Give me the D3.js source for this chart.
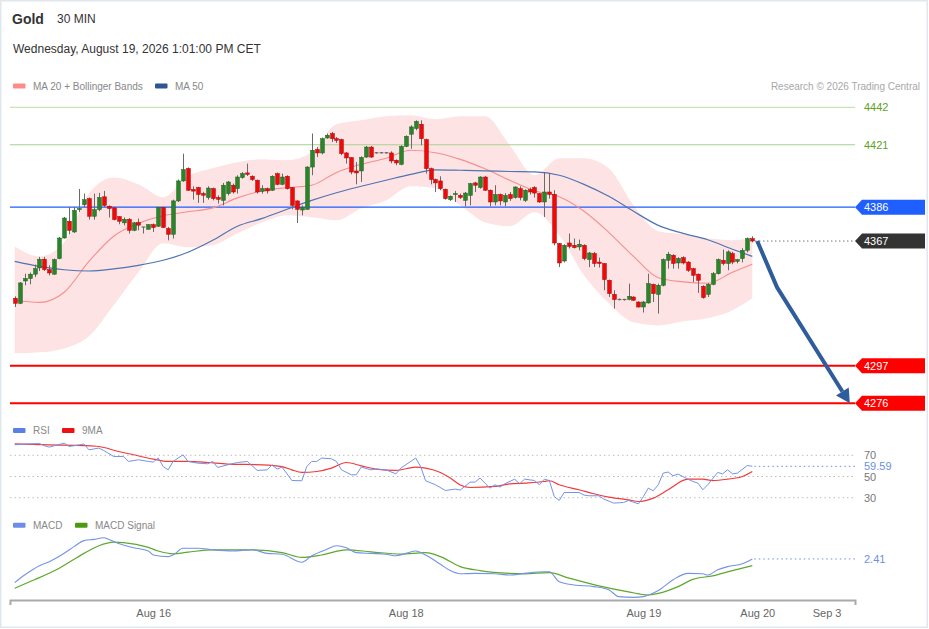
<!DOCTYPE html>
<html><head><meta charset="utf-8">
<script src="https://cdn.jsdelivr.net/npm/d3@7"></script>
<style>
body{margin:0;background:#fff;}
svg{display:block;font-family:"Liberation Sans",Arial,Helvetica,sans-serif;}
</style>
</head><body>
<svg id="c" width="929" height="629"></svg>
<script>
// ---------------- DATA ----------------
const opens = [4334.9,4332.1,4344.6,4346.0,4348.4,4351.9,4356.8,4351.0,4348.4,4357.2,
4368.7,4378.1,4372.1,4384.6,4387.4,4390.8,4380.9,4384.6,4391.8,4386.5,
4385.6,4380.7,4377.2,4379.2,4373.0,4377.4,4374.8,4373.6,4376.2,4375.3,
4385.8,4374.0,4370.8,4389.5,4400.7,4407.7,4395.9,4397.0,4393.6,4391.4,
4396.4,4391.4,4389.8,4393.6,4398.3,4396.4,4402.6,4405.2,4403.3,4401.1,
4394.9,4396.4,4395.5,4404.8,4398.8,4403.3,4397.0,4389.5,4384.4,4384.8,
4408.5,4418.3,4416.4,4424.8,4427.3,4424.4,4423.9,4416.4,4413.8,4406.3,
4406.3,4414.1,4419.7,4416.4,4416.6,4416.4,4416.4,4412.3,4410.0,4420.1,
4426.9,4430.1,4432.5,4423.9,4407.6,4401.5,4400.7,4396.0,4390.2,4393.1,
4392.6,4389.8,4392.6,4399.6,4397.0,4402.9,4395.5,4388.9,4393.1,4388.9,
4393.1,4391.4,4396.4,4389.8,4395.9,4397.0,4393.6,4388.9,4394.5,4393.2,
4365.6,4355.8,4365.9,4364.6,4363.7,4364.6,4356.6,4360.0,4355.2,4354.4,
4345.0,4337.1,4334.3,4334.1,4334.3,4335.6,4332.8,4330.0,4332.3,4342.7,
4337.1,4342.2,4356.2,4359.0,4354.7,4357.7,4355.2,4351.5,4348.4,4341.6,
4337.1,4342.7,4348.7,4356.2,4354.4,4360.0,4355.6,4357.2,4361.8,4368.4];
const highs = [4336.0,4344.0,4348.7,4349.3,4353.8,4358.1,4358.1,4353.4,4357.2,4369.3,
4380.5,4386.1,4386.1,4396.2,4393.6,4391.4,4393.6,4394.0,4395.1,4387.0,
4386.1,4380.9,4380.2,4379.9,4377.7,4379.6,4374.9,4376.4,4376.8,4386.1,
4386.1,4374.9,4390.2,4401.5,4416.0,4408.3,4397.7,4397.4,4394.6,4397.7,
4397.0,4392.6,4399.6,4400.7,4399.2,4403.9,4405.7,4410.4,4403.9,4401.5,
4398.3,4397.0,4403.9,4405.4,4404.8,4403.9,4397.3,4389.8,4387.0,4408.9,
4427.3,4419.7,4425.0,4427.3,4428.2,4425.3,4424.4,4417.0,4414.1,4411.3,
4414.5,4420.3,4420.3,4416.8,4416.9,4416.8,4417.3,4412.8,4420.7,4426.3,
4431.9,4434.7,4434.7,4424.4,4408.2,4402.0,4403.3,4396.4,4392.6,4395.1,
4393.6,4394.5,4399.6,4400.2,4403.3,4403.5,4395.9,4398.3,4393.6,4393.9,
4394.5,4397.7,4397.7,4396.0,4397.0,4397.7,4393.9,4405.7,4405.2,4395.5,
4365.9,4365.2,4371.2,4368.4,4367.8,4365.2,4360.9,4360.9,4357.7,4354.7,
4345.4,4339.4,4334.8,4334.6,4343.1,4336.0,4333.2,4333.4,4348.7,4343.1,
4343.1,4357.2,4360.9,4359.6,4358.0,4358.4,4355.7,4352.0,4348.8,4342.2,
4343.5,4349.6,4357.2,4362.2,4361.8,4361.0,4357.0,4363.0,4369.0,4369.7];
const lows = [4330.0,4331.6,4342.2,4342.7,4346.8,4350.2,4350.2,4347.8,4348.2,4356.8,
4368.4,4370.8,4371.5,4383.3,4386.1,4379.0,4379.0,4383.7,4386.1,4380.2,
4378.6,4376.4,4375.8,4371.2,4372.5,4373.0,4371.2,4373.4,4372.1,4374.9,
4374.3,4367.4,4368.4,4388.9,4400.2,4395.1,4390.2,4388.4,4388.4,4390.2,
4389.8,4388.0,4387.0,4392.6,4393.6,4393.6,4402.0,4403.5,4400.7,4393.6,
4393.6,4393.6,4395.1,4398.3,4398.3,4395.9,4384.8,4377.1,4381.4,4384.6,
4403.9,4414.1,4415.6,4424.4,4422.5,4422.0,4415.1,4410.4,4404.4,4398.8,
4400.2,4413.6,4413.6,4416.0,4416.2,4416.0,4410.6,4409.5,4409.5,4419.7,
4418.8,4429.1,4420.7,4404.8,4398.8,4394.5,4395.5,4390.2,4389.5,4388.9,
4390.6,4386.5,4387.0,4394.5,4396.4,4395.1,4386.5,4387.0,4387.0,4386.5,
4389.5,4390.8,4389.8,4388.9,4393.1,4391.4,4388.4,4380.5,4390.8,4364.6,
4352.4,4355.0,4362.9,4362.8,4361.8,4356.2,4352.4,4352.4,4352.1,4339.4,
4335.6,4329.1,4333.8,4333.6,4333.8,4333.4,4329.7,4326.9,4331.9,4332.8,
4326.3,4341.6,4351.5,4351.5,4351.5,4353.9,4349.7,4344.0,4337.9,4334.7,
4335.6,4342.2,4348.2,4353.4,4350.6,4354.0,4354.5,4355.0,4360.6,4366.3];
const closes = [4332.1,4343.5,4346.0,4348.4,4351.5,4356.8,4351.0,4349.1,4356.6,4368.7,
4379.9,4373.0,4384.2,4385.2,4390.2,4380.9,4384.6,4391.4,4387.0,4385.2,
4379.0,4378.1,4379.2,4373.0,4377.2,4375.9,4374.9,4376.2,4374.6,4385.8,
4374.6,4370.8,4389.5,4400.7,4407.1,4395.5,4395.0,4393.1,4392.7,4396.7,
4390.8,4390.4,4398.3,4400.1,4394.5,4402.9,4404.8,4404.4,4401.5,4394.5,
4396.4,4395.1,4403.3,4398.8,4402.9,4396.4,4387.0,4384.8,4385.8,4408.5,
4417.9,4416.4,4424.4,4426.3,4424.4,4423.5,4416.0,4413.6,4405.7,4405.2,
4413.9,4419.7,4414.1,4416.6,4416.4,4416.6,4411.9,4410.8,4420.1,4425.7,
4431.0,4434.1,4424.4,4407.6,4401.5,4399.6,4396.4,4390.8,4392.1,4393.6,
4391.4,4393.9,4399.2,4398.3,4402.9,4395.5,4388.9,4393.1,4389.5,4392.6,
4390.8,4397.3,4391.4,4395.5,4394.5,4393.9,4388.9,4394.5,4393.2,4365.9,
4354.7,4364.6,4364.0,4363.3,4365.2,4357.2,4360.3,4354.4,4354.4,4345.4,
4337.5,4334.2,4334.1,4334.3,4336.0,4333.8,4330.0,4332.8,4343.1,4337.5,
4342.2,4356.6,4359.6,4354.4,4357.2,4354.7,4350.6,4347.8,4345.0,4335.3,
4342.7,4348.7,4356.6,4354.4,4360.9,4355.2,4356.6,4361.8,4368.4,4367.0];

// moving averages and Bollinger bands, sampled every 5 bars
const maIdx = [0,5,10,15,20,25,30,35,40,45,50,55,60,65,70,75,80,85,90,95,100,105,110,115,120,125,130,135,140,145,149];
const ma20 = [4333.8,4332.6,4338.3,4355.6,4369.7,4376.9,4381.2,4383.4,4385.6,4391.2,4395.2,4396.9,4398.3,4405.5,4410.0,4413.4,4417.9,4416.5,4412.8,4407.5,4401.1,4395.2,4391.8,4383.7,4371.9,4358.4,4346.4,4344.1,4343.3,4349.5,4354.0];
const ma50 = [4355.6,4352.8,4350.9,4350.2,4351.4,4353.4,4356.2,4360.7,4367.4,4375.3,4379.7,4384.8,4389.8,4394.1,4397.7,4401.1,4404.4,4406.9,4406.7,4406.4,4406.0,4405.8,4403.9,4398.8,4392.1,4383.7,4375.8,4371.3,4367.7,4362.4,4358.4];
const bbUpper = [4364.0,4358.4,4366.3,4393.8,4402.7,4398.8,4391.5,4403.3,4407.8,4411.2,4412.8,4412.3,4416.8,4432.5,4434.7,4437.0,4437.5,4435.3,4437.0,4437.0,4420.7,4403.9,4413.4,4413.4,4407.8,4387.0,4372.5,4370.8,4368.5,4367.4,4368.5];
const bbLower = [4304.0,4304.6,4306.8,4313.6,4331.0,4349.5,4365.7,4363.5,4364.6,4371.3,4377.5,4381.4,4380.3,4378.6,4385.4,4389.8,4397.7,4396.6,4387.0,4377.5,4375.3,4383.1,4370.2,4347.8,4332.1,4321.4,4319.7,4322.0,4323.7,4328.2,4334.9];

// RSI and its 9MA
const rsiIdx = [0,2,5,6,7,8,10,11,14,15,17,18,20,22,23,25,27,28,29,30,31,32,34,35,37,39,40,41,43,45,47,49,51,52,53,54,56,58,59,60,61,62,64,65,66,68,69,70,72,73,75,77,78,81,82,83,85,87,89,90,92,93,94,96,97,98,99,101,102,103,105,106,107,108,109,110,111,114,115,116,118,119,121,123,124,126,127,128,129,130,131,132,133,134,136,137,138,139,140,142,143,144,145,146,148,149];
const rsiVal = [79.9,80.6,81.1,79.0,77.7,79.0,81.5,78.3,80.6,75.2,76.8,74.5,68.9,68.9,64.2,65.8,64.2,63.6,67.4,59.4,56.3,64.2,70.5,64.2,62.6,62.0,64.2,58.5,61.0,63.2,64.2,55.7,56.3,61.0,57.0,58.9,46.2,46.0,59.4,64.2,64.2,67.4,66.7,64.2,56.3,51.6,51.6,58.9,56.3,57.0,56.3,52.5,57.9,67.4,59.4,46.0,42.2,36.8,38.1,37.2,44.7,44.7,48.5,39.0,42.2,40.0,43.1,47.5,43.1,47.5,46.2,42.2,47.5,46.2,31.1,27.4,34.9,34.9,32.5,31.8,31.8,28.7,24.9,25.5,27.4,24.2,31.1,39.0,36.5,42.2,53.2,54.2,50.7,52.3,47.5,45.3,43.8,37.5,42.2,53.8,52.5,56.3,52.5,53.2,60.4,59.59];
const ma9Idx = [0,7,14,17,21,24,28,31,35,39,43,50,54,56,58,61,64,67,70,73,77,81,83,86,88,90,92,97,100,103,107,108,110,114,117,120,124,126,129,132,136,139,141,144,147,149];
const ma9Val = [80.8,79.9,79.2,78.3,73.6,70.5,66.4,64.2,64.2,63.2,61.7,61.0,59.4,56.3,53.8,54.7,57.9,63.2,60.1,57.0,55.7,58.9,57.9,53.8,48.5,42.0,39.6,40.6,43.1,43.8,45.3,46.0,42.2,37.5,33.7,30.6,28.0,26.4,29.6,37.5,47.5,47.5,46.2,47.5,50.0,54.7];
const rsiLevels = [70, 50, 30];

// MACD and signal
const macdIdx = [0,2,5,7,10,12,14,16,18,19,21,24,27,28,31,32,34,37,40,44,48,51,54,58,60,63,65,67,69,72,75,77,79,81,83,86,88,90,93,97,100,103,107,108,110,113,117,120,122,125,127,130,133,136,139,140,142,144,147,149];
const macdVal = [-3.5,-1.6,0.74,1.74,3.84,5.5,7.0,7.3,7.7,7.3,6.3,5.2,4.4,3.4,3.0,3.4,5.1,5.1,4.7,4.4,4.7,3.8,3.6,1.6,3.2,4.8,5.7,5.2,4.0,3.8,3.6,3.2,3.8,4.4,3.4,1.1,-0.5,-1.3,-1.2,-1.3,-1.6,-1.2,-0.8,-0.8,-3.3,-4.1,-4.5,-5.3,-7.0,-7.2,-7.0,-5.5,-2.8,-1.2,-1.3,-1.6,-0.3,0.5,1.2,2.41];
const sigIdx = [0,4,9,14,17,20,22,27,29,32,35,40,48,54,58,62,67,72,78,83,86,90,94,100,103,108,112,118,124,128,130,134,137,141,145,149];
const sigVal = [-4.9,-2.8,0.1,3.8,5.7,6.6,6.5,5.3,4.4,3.7,4.1,4.7,4.7,4.0,2.8,3.4,4.7,4.2,3.6,4.0,3.0,0.5,-0.5,-1.2,-1.3,-1.0,-2.4,-4.3,-5.8,-6.6,-6.2,-4.5,-2.7,-1.8,-0.5,0.74];

// key levels
const resistLevels = [4442, 4421];
const pivotLevel = 4386;
const lastPrice = 4367;
const supportLevels = [4297, 4276];

// forecast arrow (bar index, price)
const arrowIdx = [150, 154, 168.7];
const arrowPrice = [4367, 4341, 4276];

// x axis
const tickIdx = [28, 79, 127, 150, 164];
const tickLabels = ["Aug 16", "Aug 18", "Aug 19", "Aug 20", "Sep 3"];

// ---------------- DRAW ----------------
const svg = d3.select("#c");
const W = 929, H = 629;
const LEFT = 10, RIGHT = 855;

svg.append("rect").attr("x",0.75).attr("y",0.75).attr("width",W-2.5).attr("height",H-2.5)
  .attr("fill","#fff").attr("stroke","#e1e7ec").attr("stroke-width",1.5);

const x = d3.scaleLinear().domain([0,149]).range([14.7,752.3]);
const y = d3.scaleLinear().domain([4276,4442]).range([403.3,107.3]);
const yr = d3.scaleLinear().domain([30,70]).range([497.7,455.3]);
const ym = d3.scaleLinear().domain([-8,8]).range([600.6,536.6]);

// header
svg.append("text").attr("x",12).attr("y",24).attr("font-size",14).attr("font-weight","bold").attr("fill","#333").text("Gold");
svg.append("text").attr("x",57).attr("y",23).attr("font-size",12).attr("fill","#333").text("30 MIN");
svg.append("text").attr("x",13).attr("y",53).attr("font-size",12).attr("fill","#333").text("Wednesday, August 19, 2026 1:01:00 PM CET");

function legend(xs, yc, color, label){
  svg.append("rect").attr("x",xs).attr("y",yc-2.5).attr("width",12.5).attr("height",5).attr("rx",1).attr("fill",color);
  svg.append("text").attr("x",xs+20).attr("y",yc+3.5).attr("font-size",10).attr("fill","#888").text(label);
}
legend(13, 86, "#ff8a8a", "MA 20 + Bollinger Bands");
legend(155, 86, "#2f5597", "MA 50");
svg.append("text").attr("x",920).attr("y",89.5).attr("text-anchor","end").attr("font-size",10).attr("fill","#a8a8a8").text("Research \u00a9 2026 Trading Central");

// Bollinger band
const bandData = maIdx.map((d,i)=>({i:d,u:bbUpper[i],l:bbLower[i],m20:ma20[i],m50:ma50[i]}));
svg.append("path").datum(bandData)
  .attr("d", d3.area().x(d=>x(d.i)).y0(d=>y(d.l)).y1(d=>y(d.u)).curve(d3.curveMonotoneX))
  .attr("fill","#fde3e3");

// level lines
const lvl = svg.append("g");
resistLevels.forEach((v,k)=>{
  lvl.append("line").attr("x1",LEFT).attr("x2",RIGHT).attr("y1",y(v)).attr("y2",y(v))
    .attr("stroke", k===0 ? "#c8e4b4" : "#a9d08f").attr("stroke-width",1.2);
  lvl.append("text").attr("x",864).attr("y",y(v)+4).attr("font-size",11).attr("fill","#5ea21f").text(v);
});
lvl.append("line").attr("x1",LEFT).attr("x2",RIGHT).attr("y1",y(pivotLevel)).attr("y2",y(pivotLevel))
  .attr("stroke","#1d5cff").attr("stroke-width",1.3);
supportLevels.forEach(v=>{
  lvl.append("line").attr("x1",LEFT).attr("x2",RIGHT).attr("y1",y(v)).attr("y2",y(v))
    .attr("stroke","#ff0000").attr("stroke-width",2);
});
lvl.append("line").attr("x1",x(149)+3).attr("x2",RIGHT).attr("y1",y(lastPrice)).attr("y2",y(lastPrice))
  .attr("stroke","#333").attr("stroke-width",1).attr("stroke-dasharray","1,3");

// MA lines
svg.append("path").datum(bandData).attr("d", d3.line().x(d=>x(d.i)).y(d=>y(d.m20)).curve(d3.curveMonotoneX))
  .attr("fill","none").attr("stroke","#f58f8f").attr("stroke-width",1.1);
svg.append("path").datum(bandData).attr("d", d3.line().x(d=>x(d.i)).y(d=>y(d.m50)).curve(d3.curveMonotoneX))
  .attr("fill","none").attr("stroke","#4f74b2").attr("stroke-width",1.2);

// candles
const candles = opens.map((o,i)=>({i, o, h:highs[i], l:lows[i], c:closes[i]}));
const cg = svg.append("g");
const bw = 3.8;
candles.forEach(d=>{
  const cx = Math.round(x(d.i))+0.5;
  cg.append("line").attr("x1",cx).attr("x2",cx).attr("y1",y(d.h)).attr("y2",y(d.l))
    .attr("stroke","#6a6a6a").attr("stroke-width",1);
  const top = y(Math.max(d.o,d.c)), bot = y(Math.min(d.o,d.c));
  if (Math.abs(d.o-d.c) < 0.5) {
    cg.append("line").attr("x1",cx-bw/2).attr("x2",cx+bw/2).attr("y1",(top+bot)/2).attr("y2",(top+bot)/2)
      .attr("stroke","#666").attr("stroke-width",1.2);
  } else {
    const up = d.c > d.o;
    cg.append("rect").attr("x",cx-bw/2).attr("y",top).attr("width",bw).attr("height",Math.max(1,bot-top))
      .attr("fill", up ? "#2a842a" : "#ee0a0a")
      .attr("stroke", up ? "#1c5e1c" : "#b00000").attr("stroke-width",0.5);
  }
});

// forecast arrow
const ap = arrowIdx.map((d,i)=>[x(d), y(arrowPrice[i])]);
const tip = ap[ap.length-1], prev = ap[ap.length-2];
const ang = Math.atan2(tip[1]-prev[1], tip[0]-prev[0]);
const hl = 14, hw = 7.5;
const base = [tip[0]-hl*Math.cos(ang), tip[1]-hl*Math.sin(ang)];
const shaft = ap.slice(0,-1).concat([base]);
svg.append("path").attr("d", d3.line()(shaft)).attr("fill","none")
  .attr("stroke","#2f5d9b").attr("stroke-width",4).attr("stroke-linejoin","round");
svg.append("path").attr("d", d3.line()([
  tip,
  [base[0]+hw*Math.sin(ang), base[1]-hw*Math.cos(ang)],
  [base[0]-hw*Math.sin(ang), base[1]+hw*Math.cos(ang)]
])+"Z").attr("fill","#2f5d9b");

// tags
function tag(v, fill){
  const yy = y(v);
  svg.append("path").attr("d", d3.line()([[855,yy],[862,yy-7.5],[925,yy-7.5],[925,yy+7.5],[862,yy+7.5]])+"Z")
    .attr("fill", fill);
  svg.append("text").attr("x",864).attr("y",yy+4).attr("font-size",11).attr("fill","#fff").text(v);
}
tag(pivotLevel, "#1f5eff");
tag(lastPrice, "#333333");
supportLevels.forEach(v=>tag(v, "#ff0000"));

// ---------- RSI panel ----------
legend(13, 430.5, "#5b80e2", "RSI");
legend(62, 430.5, "#ee1111", "9MA");
rsiLevels.forEach(v=>{
  svg.append("line").attr("x1",LEFT).attr("x2",RIGHT).attr("y1",yr(v)).attr("y2",yr(v))
    .attr("stroke","#bdbdbd").attr("stroke-width",1).attr("stroke-dasharray","1.5,3");
  svg.append("text").attr("x",864).attr("y",yr(v)+4).attr("font-size",11).attr("fill","#777").text(v);
});
const rsiPts = rsiIdx.map((d,i)=>[x(d), yr(rsiVal[i])]);
const ma9Pts = ma9Idx.map((d,i)=>[x(d), yr(ma9Val[i])]);
svg.append("path").attr("d", d3.line().curve(d3.curveMonotoneX)(ma9Pts)).attr("fill","none").attr("stroke","#f23a3a").attr("stroke-width",1.2);
svg.append("path").attr("d", d3.line()(rsiPts)).attr("fill","none").attr("stroke","#7393e8").attr("stroke-width",1);
const lastR = rsiVal[rsiVal.length-1];
svg.append("line").attr("x1",x(149)+2).attr("x2",RIGHT).attr("y1",yr(lastR)).attr("y2",yr(lastR))
  .attr("stroke","#6d8fe6").attr("stroke-width",1).attr("stroke-dasharray","1.5,3");
svg.append("rect").attr("x",863).attr("y",yr(lastR)-5).attr("width",30).attr("height",9).attr("fill","#fff");
svg.append("text").attr("x",864).attr("y",yr(lastR)+3.5).attr("font-size",11).attr("fill","#6d8fe6").text(lastR.toFixed(2));

// ---------- MACD panel ----------
legend(13, 525.3, "#6c8ee6", "MACD");
legend(75, 525.3, "#4c9a10", "MACD Signal");
const macdPts = macdIdx.map((d,i)=>[x(d), ym(macdVal[i])]);
const sigPts = sigIdx.map((d,i)=>[x(d), ym(sigVal[i])]);
svg.append("path").attr("d", d3.line().curve(d3.curveMonotoneX)(sigPts)).attr("fill","none").attr("stroke","#5ea82c").attr("stroke-width",1.2);
svg.append("path").attr("d", d3.line().curve(d3.curveMonotoneX)(macdPts)).attr("fill","none").attr("stroke","#7393e8").attr("stroke-width",1.1);
const lastM = macdVal[macdVal.length-1];
svg.append("line").attr("x1",x(149)+2).attr("x2",RIGHT).attr("y1",ym(lastM)).attr("y2",ym(lastM))
  .attr("stroke","#6d8fe6").attr("stroke-width",1).attr("stroke-dasharray","1.5,3");
svg.append("text").attr("x",864).attr("y",ym(lastM)+4).attr("font-size",11).attr("fill","#6d8fe6").text(lastM.toFixed(2));

// ---------- X axis ----------
const xa = x.copy().domain([x.invert(LEFT), x.invert(RIGHT)]).range([LEFT, RIGHT]);
const axis = d3.axisBottom(xa).tickValues(tickIdx).tickFormat((d,i)=>tickLabels[i])
  .tickSize(0).tickSizeOuter(5).tickPadding(9);
const ag = svg.append("g").attr("transform","translate(0,600)").call(axis);
ag.select(".domain").attr("stroke","#aaaaaa").attr("stroke-width",2);
ag.selectAll("text").attr("font-size",11).attr("fill","#666").attr("font-family","Liberation Sans, Arial, sans-serif");
</script>
</body></html>
